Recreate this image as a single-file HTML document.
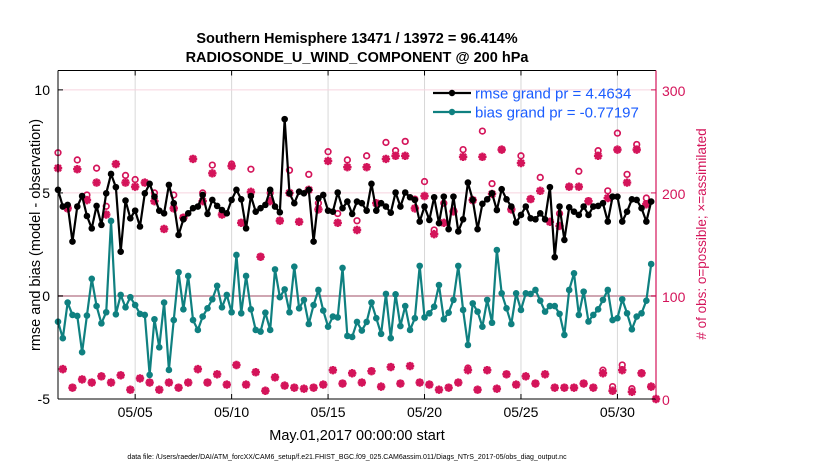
<!DOCTYPE html>
<html><head><meta charset="utf-8"><style>
body{margin:0;background:#fff;}
svg{display:block;font-family:"Liberation Sans",sans-serif;}
</style></head><body>
<svg id="chart" width="830" height="470" viewBox="0 0 830 470" xmlns="http://www.w3.org/2000/svg">
<g font-weight="bold" font-size="14.5" text-anchor="middle" fill="#000">
<text x="357" y="43">Southern Hemisphere 13471 / 13972 = 96.414%</text>
<text x="357" y="62">RADIOSONDE_U_WIND_COMPONENT @ 200 hPa</text>
</g>
<g id="grid"></g>
<g id="marks"></g>
<g id="axes"></g>
<g>
<line x1="433" y1="93" x2="471" y2="93" stroke="#000" stroke-width="2.2"/><circle cx="452" cy="93" r="3.2" fill="#000"/>
<text x="475" y="98.5" font-size="15" fill="#1a5cff">rmse grand pr = 4.4634</text>
<line x1="433" y1="112" x2="471" y2="112" stroke="#0f8080" stroke-width="2.2"/><circle cx="452" cy="112" r="3.2" fill="#0f8080"/>
<text x="475" y="117.5" font-size="15" fill="#1a5cff">bias grand pr = -0.77197</text>
</g>
<text transform="translate(40,235) rotate(-90)" text-anchor="middle" font-size="14.5" fill="#000">rmse and bias (model - observation)</text>
<text transform="translate(706,234) rotate(-90)" text-anchor="middle" font-size="13.5" fill="#d4145a"># of obs: o=possible; ×=assimilated</text>
<text x="357" y="440" text-anchor="middle" font-size="14.5" fill="#000">May.01,2017 00:00:00 start</text>
<text x="347" y="459" text-anchor="middle" font-size="7" fill="#000">data file: /Users/raeder/DAI/ATM_forcXX/CAM6_setup/f.e21.FHIST_BGC.f09_025.CAM6assim.011/Diags_NTrS_2017-05/obs_diag_output.nc</text>
</svg>
<script>
const rmse=[5.15,4.34,4.42,2.64,4.34,4.85,3.88,3.28,4.37,3.45,4.98,5.92,5.28,2.15,4.63,3.77,4.14,3.37,4.98,5.44,4.82,4.14,4.01,5.39,4.50,2.96,3.72,4.01,4.26,4.34,4.90,3.98,
4.66,4.37,4.17,4.01,4.66,5.15,4.69,3.28,4.85,4.09,4.26,4.42,5.15,4.34,4.06,8.58,4.98,4.50,5.06,4.98,5.15,2.64,4.74,4.90,4.14,4.09,5.02,4.26,4.58,3.98,4.58,
4.50,4.14,5.44,4.14,4.50,4.34,4.04,5.02,4.34,5.02,4.79,4.66,3.61,4.34,3.69,4.79,3.53,4.82,3.24,4.82,3.13,3.72,5.50,4.66,3.24,4.47,4.69,4.98,4.17,5.18,4.69,
4.34,3.56,3.93,4.34,3.77,3.72,4.01,3.72,5.28,1.88,4.34,2.72,4.30,4.09,3.93,4.34,3.93,4.34,4.37,4.50,3.61,4.82,4.82,3.61,4.09,4.69,4.66,4.26,3.61,4.58];
const bias=[-1.25,-2.05,-0.32,-0.92,-0.97,-2.73,-0.95,0.83,-0.49,-1.33,-0.79,3.64,-0.89,0.05,-0.55,-0.06,-0.44,-0.87,-0.92,-3.83,-1.13,-2.49,-0.32,-3.59,-1.17,1.15,-0.65,0.97,-1.17,-1.65,-1.0,-0.6,
-0.16,0.49,-0.55,0.05,-0.79,1.99,-0.84,0.97,-0.65,-1.65,-1.73,-0.81,-1.65,1.29,-0.06,0.32,-0.79,1.42,-0.6,-0.19,-1.36,-0.44,0.29,-0.71,-1.49,-1.0,-1.04,1.36,-1.94,-1.99,-1.26,
-1.68,-1.26,-0.32,-1.08,-1.84,0.1,-2.05,0.08,-1.46,-0.49,-1.65,-1.08,1.46,-1.04,-0.84,-0.52,0.53,-1.13,-0.81,-0.19,1.46,-0.68,-2.38,-0.36,-0.76,-1.49,-0.19,-1.30,2.23,0.13,-0.6,
-1.36,0.13,-0.68,0.13,0.10,0.29,-0.23,-0.76,-0.49,-0.49,-0.87,-1.89,0.29,1.10,-0.92,0.21,-1.24,-0.92,-0.65,-0.19,0.29,-1.17,-1.08,-0.16,-0.84,-1.62,-1.0,-0.84,-0.23,1.55];
const obsPossible=[239,29,187,11,232,19,198,16,224,22,187,16,228,23,217,9,213,20,210,16,200,9,165,16,198,11,176,16,233,29,200,16,
227,24,179,14,228,33,171,14,223,26,138,8,200,21,173,13,222,11,172,10,218,11,190,14,240,28,180,15,232,25,173,
16,236,27,190,12,249,31,241,15,250,32,194,16,211,14,164,9,190,11,182,16,242,30,193,9,260,28,209,10,242,24,
184,14,236,22,194,15,215,24,172,11,180,11,206,11,221,15,192,11,241,28,202,12,258,33,218,10,247,25,195,12,0];
const obsAssim=[224,29,185,11,223,19,193,16,210,22,179,16,228,23,210,9,206,20,210,16,192,9,165,16,185,11,176,16,233,29,192,16,
219,24,179,14,226,33,171,14,201,26,138,8,192,21,173,13,200,11,172,10,203,11,184,14,231,28,171,15,225,25,164,
16,225,27,190,12,233,31,236,15,236,32,185,16,197,14,160,9,171,11,182,16,235,28,193,9,235,28,199,10,242,24,
184,14,229,22,194,15,202,24,172,11,168,11,206,11,206,15,192,11,236,25,195,8,242,28,210,7,242,25,189,12,0];
const xTickDays=[4,9,14,19,24,29];
const xTickLabels=["05/05","05/10","05/15","05/20","05/25","05/30"];
const yTicksLeft=[10,5,0,-5];
const yTicksRight=[300,200,100,0];

const L=58,R=656,T=70.5,B=399;
const xMin=0,xMax=31,yMin=-5,yMax=10.94;
const x=d=>L+(d-xMin)/(xMax-xMin)*(R-L);
const y=v=>B-(v-yMin)/(yMax-yMin)*(B-T);
const yr=c=>y(-5+c/20);
const NS="http://www.w3.org/2000/svg";
function mk(tag,attrs,parent){const e=document.createElementNS(NS,tag);for(const k in attrs)e.setAttribute(k,attrs[k]);parent.appendChild(e);return e;}
const grid=document.getElementById('grid'),marks=document.getElementById('marks'),axes=document.getElementById('axes');

xTickDays.forEach((d,i)=>{
  const g=mk('line',{x1:x(d),x2:x(d),y1:T,y2:B,stroke:'#d8d8d8','stroke-width':1},grid);
  
  
  const t=mk('text',{x:x(d),y:417,'text-anchor':'middle','font-size':14,fill:'#000'},axes);
  t.textContent=xTickLabels[i];
  
  
  mk('line',{x1:x(d),x2:x(d),y1:B,y2:B-5,stroke:'#000'},axes);
  mk('line',{x1:x(d),x2:x(d),y1:T,y2:T+5,stroke:'#000'},axes);
});
yTicksRight.forEach(c=>{
  if(c===0)return;
  const g=mk('line',{x1:L,x2:R,y1:yr(c),y2:yr(c),stroke:c===100?'#cfa6b2':'#f6d4df','stroke-width':c===100?2:1},grid);
  
  
});
yTicksLeft.forEach(v=>{
  const t=mk('text',{x:50,y:y(v)+5,'text-anchor':'end','font-size':14,fill:'#000'},axes);
  t.textContent=String(v);
  
  
  mk('line',{x1:L,x2:L+5,y1:y(v),y2:y(v),stroke:'#000'},axes);
});
yTicksRight.forEach(c=>{
  const t=mk('text',{x:662,y:yr(c)+6,'font-size':14,fill:'#d4145a'},axes);
  t.textContent=String(c);
  
  
  mk('line',{x1:R,x2:R-5,y1:yr(c),y2:yr(c),stroke:'#d4145a'},axes);
});
mk('line',{x1:L,x2:R,y1:T,y2:T,stroke:'#000'},axes);
mk('line',{x1:L,x2:R,y1:B,y2:B,stroke:'#000'},axes);
mk('line',{x1:L,x2:L,y1:T,y2:B,stroke:'#000'},axes);
mk('line',{x1:R,x2:R,y1:T,y2:B,stroke:'#d4145a','stroke-width':1.2},axes);

const tday=i=>i*0.25;
const cr='#d4145a';
obsAssim.forEach((c,i)=>{
  const cx=x(tday(i)),cy=yr(c),s=4.2;
  const g=mk('path',{d:`M${cx-s} ${cy}H${cx+s}M${cx} ${cy-s}V${cy+s}M${cx-s*0.72} ${cy-s*0.72}L${cx+s*0.72} ${cy+s*0.72}M${cx-s*0.72} ${cy+s*0.72}L${cx+s*0.72} ${cy-s*0.72}`,stroke:cr,'stroke-width':2.4,fill:'none'},marks);
  
  
});
obsPossible.forEach((c,i)=>{
  const g=mk('circle',{cx:x(tday(i)),cy:yr(c),r:2.8,fill:'none',stroke:cr,'stroke-width':1.7},marks);
  
  
});
function series(arr,color,name){
  const p=mk('polyline',{points:arr.map((v,i)=>x(tday(i))+','+y(v)).join(' '),fill:'none',stroke:color,'stroke-width':2.2,'stroke-linejoin':'round'},marks);
  
  
  arr.forEach((v,i)=>{
    const c=mk('circle',{cx:x(tday(i)),cy:y(v),r:3.3,fill:color},marks);
    
    
  });
}
series(bias,'#0f8080','bias');
series(rmse,'#000','rmse');
</script>
</body></html>
